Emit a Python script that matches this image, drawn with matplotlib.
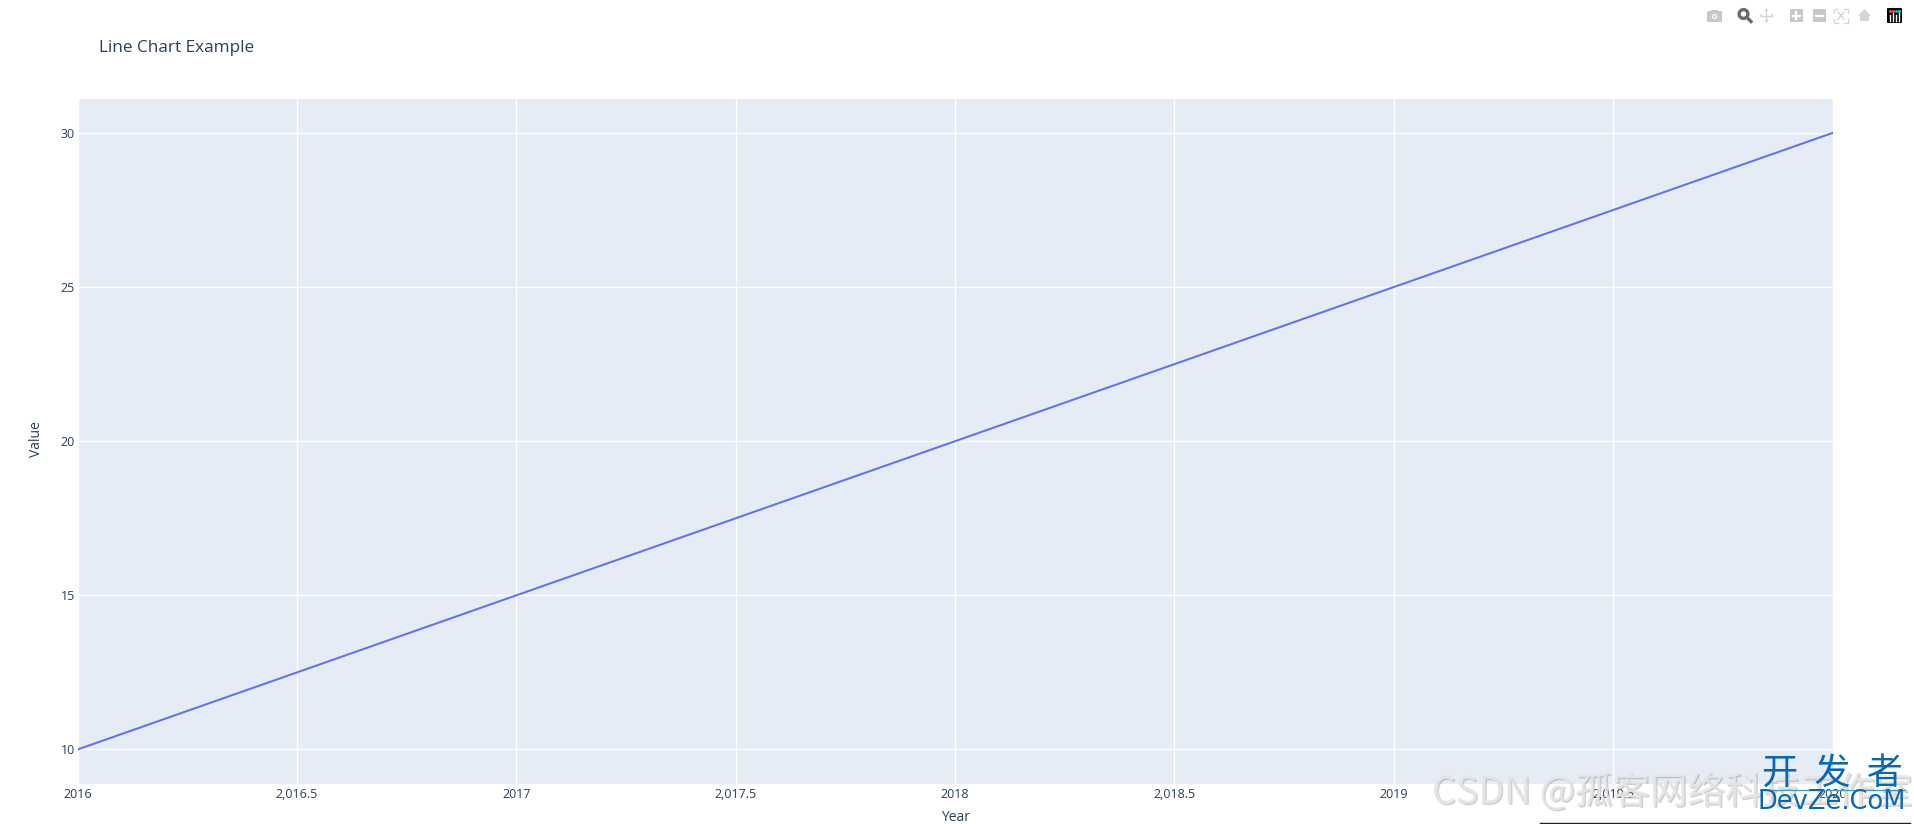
import matplotlib
matplotlib.use('Agg')
import matplotlib.pyplot as plt
import matplotlib.patheffects as pe
from matplotlib.patches import Circle, Rectangle, Polygon, FancyBboxPatch

# chart values
years = [2016, 2017, 2018, 2019, 2020]
values = [10, 15, 20, 25, 30]
x_ticks = [2016, 2016.5, 2017, 2017.5, 2018, 2018.5, 2019, 2019.5, 2020]
x_labels = ['2016', '2,016.5', '2017', '2,017.5', '2018', '2,018.5', '2019', '2,019.5', '2020']
y_ticks = [10, 15, 20, 25, 30]

W, H = 1915, 824
INK = '#2a3f5f'
plt.rcParams['font.family'] = ['Open Sans', 'DejaVu Sans']

fig = plt.figure(figsize=(W / 100, H / 100), dpi=100, facecolor='white')

# plot area, pixel box
left, right, top, bottom = 77.6, 1832.6, 98.7, 784
ax = fig.add_axes([left / W, 1 - bottom / H, (right - left) / W, (bottom - top) / H])
ax.set_facecolor('#e5ecf6')
ax.plot(years, values, color='#636efa', lw=1.45, zorder=3)
ax.set_xlim(2016, 2020)
ax.set_ylim(8.88, 31.11)
ax.set_xticks(x_ticks)
ax.set_xticklabels(x_labels)
ax.set_yticks(y_ticks)
ax.grid(True, color='white', lw=1, zorder=1)
ax.set_axisbelow(True)
for s in ax.spines.values():
    s.set_visible(False)
ax.tick_params(length=0, labelsize=9, labelcolor=INK, pad=3)
ax.tick_params(axis='y', pad=2)

fig.text(99 / W, 1 - 47.5 / H, 'Line Chart Example', fontsize=12.3, color=INK, va='center')
fig.text(955.5 / W, 1 - 817.5 / H, 'Year', fontsize=10, color=INK, ha='center', va='center')
fig.text(36.5 / W, 1 - 439 / H, 'Value', fontsize=10, color=INK, rotation=90, ha='center', va='center')

# overlay in image pixels for the modebar and the stamps
ov = fig.add_axes([0, 0, 1, 1], facecolor='none')
ov.set_xlim(0, W)
ov.set_ylim(H, 0)
ov.axis('off')

grey = '#c8c8c8'
# camera
ov.add_patch(FancyBboxPatch((1708, 12), 13, 9, boxstyle='round,pad=1', fc=grey, ec='none'))
ov.add_patch(Rectangle((1711, 9.5), 7, 3, fc=grey, ec='none'))
ov.add_patch(Circle((1714.5, 16.5), 2.6, fc='white', ec='none'))
ov.add_patch(Circle((1714.5, 16.5), 1.4, fc=grey, ec='none'))
# zoom, active
ov.add_patch(Circle((1743.5, 14), 4.4, fc='none', ec='#6b6b6b', lw=2.4))
ov.plot([1747, 1751], [17.5, 21.5], color='#6b6b6b', lw=2.4)
# pan
ov.plot([1761, 1772], [15.5, 15.5], color='#d6d6d6', lw=1)
ov.plot([1766.5, 1766.5], [10, 21], color='#d6d6d6', lw=1)
for pts in ([(1759, 15.5), (1762, 13.5), (1762, 17.5)], [(1774, 15.5), (1771, 13.5), (1771, 17.5)],
            [(1766.5, 8), (1764.5, 11), (1768.5, 11)], [(1766.5, 23), (1764.5, 20), (1768.5, 20)]):
    ov.add_patch(Polygon(pts, fc='#d6d6d6', ec='none'))
# zoom in / zoom out
ov.add_patch(Rectangle((1790, 9), 13, 13, fc=grey, ec='none'))
ov.plot([1793, 1800], [15.5, 15.5], color='white', lw=1.6)
ov.plot([1796.5, 1796.5], [12, 19], color='white', lw=1.6)
ov.add_patch(Rectangle((1813, 9), 13, 13, fc=grey, ec='none'))
ov.plot([1816, 1823], [15.5, 15.5], color='white', lw=1.6)
# autoscale
for cx, cy, dx, dy in ((1834, 8.5, 4, 4), (1848, 8.5, -4, 4), (1834, 22.5, 4, -4), (1848, 22.5, -4, -4)):
    ov.plot([cx + dx, cx, cx], [cy, cy, cy + dy], color='#d6d6d6', lw=0.9)
ov.plot([1838, 1844], [12, 19], color='#d6d6d6', lw=1)
ov.plot([1844, 1838], [12, 19], color='#d6d6d6', lw=1)
# home
ov.add_patch(Polygon([(1858, 16), (1864.5, 9), (1871, 16), (1869, 16), (1869, 21), (1860, 21), (1860, 16)], fc='#d6d6d6', ec='none'))
# plotly logo
ov.add_patch(FancyBboxPatch((1888, 9), 13, 13, boxstyle='round,pad=1', fc='black', ec='none'))
for bx, by in ((1890, 15), (1893, 13), (1896, 15), (1899, 13)):
    ov.plot([bx, bx], [by, 21], color='white', lw=1)
for bx, c in ((1890, '#ef553b'), (1893, '#ef553b'), (1896, '#00cc96'), (1899, '#19d3f3')):
    ov.plot([bx], [11], marker='s', ms=1, color=c)

# CSDN stamp over the corner, see-through so tick labels still show
ov.text(1432, 793, 'CSDN @孤客网络科技工作室',
        family=['Noto Sans CJK SC', 'DejaVu Sans'], fontsize=27, color='#e6e6e6', alpha=0.7,
        ha='left', va='center',
        path_effects=[pe.withSimplePatchShadow(offset=(1, -1), shadow_rgbFace='#8a8a8a', alpha=0.4), pe.Normal()])

# DevZe logo
blue = '#0868b8'
ov.text(1832, 774, '开  发  者', family=['Noto Sans CJK SC', 'DejaVu Sans'], fontsize=26, color=blue,
        ha='center', va='center', zorder=5)
ov.plot([1760, 1905], [789.5, 789.5], color='#35a0d0', lw=0.9, zorder=5)
ov.text(1832, 802, 'DevZe.CoM', family=['DejaVu Sans'], fontsize=18.5, color=blue, ha='center', va='center', zorder=5)
ov.plot([1540, 1910], [823, 823], color='#222222', lw=1)

fig.savefig('out.png', dpi=100)
